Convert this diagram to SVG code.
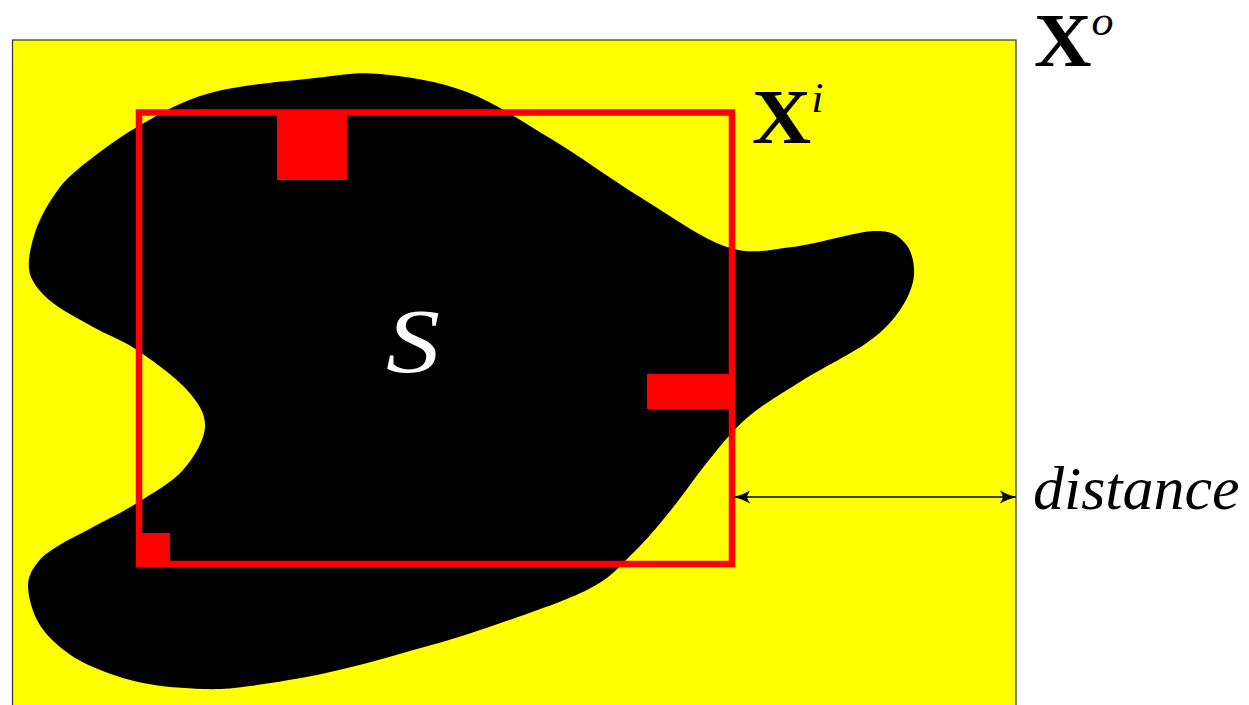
<svg xmlns="http://www.w3.org/2000/svg" width="1249" height="705" viewBox="0 0 1249 705">
<style>
.red{fill:#ff0000}
</style>
<defs>
<marker id="ah" viewBox="-17 -7 18 14" refX="0" refY="0" markerWidth="18" markerHeight="14" markerUnits="userSpaceOnUse" orient="auto-start-reverse">
<path d="M0,0 C-5,-1 -11,-3.5 -15,-5.8 C-11.5,-2 -11.5,2 -15,5.8 C-11,3.5 -5,1 0,0 Z" fill="#000" stroke="#000" stroke-width="0.8" stroke-linejoin="round"/>
</marker>
</defs>
<rect width="1249" height="705" fill="#fff"/>
<g id="outer-region">
<rect x="12.5" y="40" width="1003.5" height="670" fill="#ffff00" stroke="#333" stroke-width="1.2"/>
</g>
<g id="shape-S">
<path fill="#000" d="M380,74 C405.3,76.3 438.2,81 467,92 C495.8,103 524.2,122.5 553,140 C581.8,157.5 611,179.2 640,197 C669,214.8 701.7,238.7 727,247 C752.3,255.3 767.5,249.7 792,247 C816.5,244.3 855.2,231.7 874,231 C892.8,230.3 898.3,235.7 905,243 C911.7,250.3 914.8,263.8 914,275 C913.2,286.2 907.7,298.8 900,310 C892.3,321.2 884.2,330.3 868,342 C851.8,353.7 823,367.5 803,380 C783,392.5 763.7,403.7 748,417 C732.3,430.3 721.8,444.5 709,460 C696.2,475.5 683.7,494.5 671,510 C658.3,525.5 647,539.7 633,553 C619,566.3 612.5,577.2 587,590 C561.5,602.8 510.7,619.5 480,630 C449.3,640.5 428.7,645.8 403,653 C377.3,660.2 351.5,667.5 326,673 C300.5,678.5 270.5,683.3 250,686 C229.5,688.7 220.8,689.5 203,689 C185.2,688.5 161.3,686.7 143,683 C124.7,679.3 106.8,673 93,667 C79.2,661 69.3,654.8 60,647 C50.7,639.2 42.3,630.3 37,620 C31.7,609.7 27.8,594.7 28,585 C28.2,575.3 33,568.5 38,562 C43,555.5 48.8,551.8 58,546 C67.2,540.2 79.8,534.2 93,527 C106.2,519.8 122,512.5 137,503 C152,493.5 171.7,482.7 183,470 C194.3,457.3 204.3,440.3 205,427 C205.7,413.7 198.3,402.8 187,390 C175.7,377.2 152.7,360.5 137,350 C121.3,339.5 107,334.8 93,327 C79,319.2 63,310.7 53,303 C43,295.3 37,288.2 33,281 C29,273.8 28.3,269 29,260 C29.7,251 33,237.5 37,227 C41,216.5 46.3,206.5 53,197 C59.7,187.5 63,181.7 77,170 C91,158.3 114.8,139.8 137,127 C159.2,114.2 180.3,101.2 210,93 C239.7,84.8 286.7,81.2 315,78 C343.3,74.8 354.7,71.7 380,74 Z"/>
<text x="386" y="372" font-family="Liberation Serif, DejaVu Serif, serif" font-style="italic" font-size="90" fill="#ffffff" transform="translate(386 372) scale(1.2 1) translate(-386 -372)">S</text>
</g>
<g id="inner-region">
<rect x="139" y="112.5" width="593" height="451.5" fill="none" stroke="#ff0000" stroke-width="6.5"/>
<rect class="red" x="277" y="112" width="70" height="68"/>
<rect class="red" x="647" y="374" width="85" height="35"/>
<rect class="red" x="139" y="533" width="31" height="31"/>
</g>
<g id="connectors">
<line x1="734.5" y1="497" x2="1015.5" y2="497" stroke="#000" stroke-width="1.3" marker-start="url(#ah)" marker-end="url(#ah)"/>
</g>
<g id="labels" font-family="Liberation Serif, DejaVu Serif, serif" fill="#000">
<text x="1034" y="66" font-size="76" font-weight="bold" transform="translate(1034 66) scale(1.05 1) translate(-1034 -66)">X<tspan font-style="italic" font-weight="normal" font-size="42" dy="-31">o</tspan></text>
<text x="752" y="143" font-size="78" font-weight="bold" transform="translate(752 143) scale(1.05 1) translate(-752 -143)">X<tspan font-style="italic" font-weight="normal" font-size="42" dy="-31">i</tspan></text>
<text x="1033" y="509" font-size="62" font-style="italic">distance</text>
</g>
</svg>
